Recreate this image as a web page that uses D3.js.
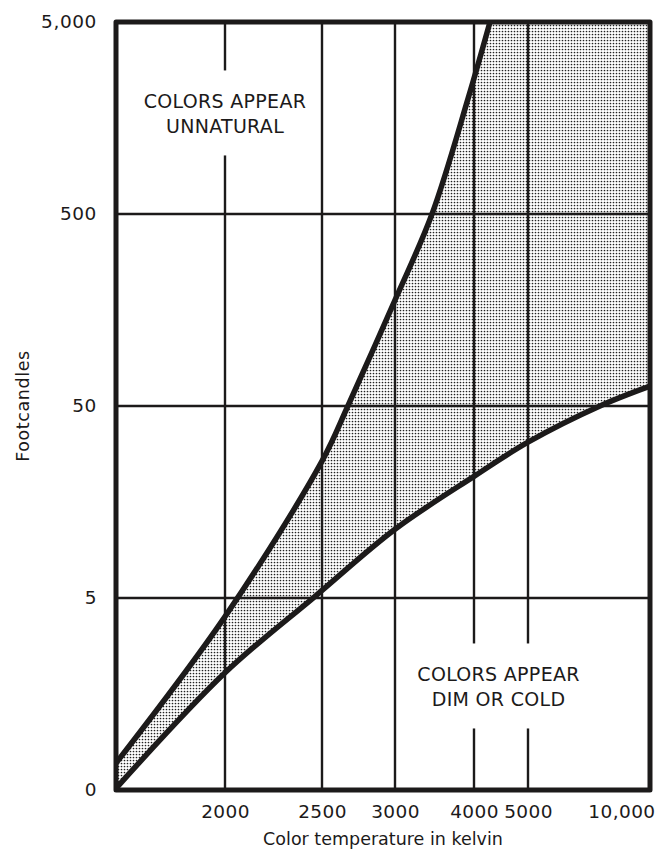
<!DOCTYPE html>
<html><head><meta charset="utf-8">
<script src="https://cdn.jsdelivr.net/npm/d3@7"></script>
<style>
body{margin:0;background:#fff;}
svg{display:block;}
text{font-family:"DejaVu Sans",sans-serif;fill:#1c1a1a;}
</style>
</head><body>
<svg id="chart" width="659" height="852"></svg>
<script>
// ---- data ----
const kelvinTicks  = [2000, 2500, 3000, 4000, 5000, 10000];
const kelvinLabels = ["2000", "2500", "3000", "4000", "5000", "10,000"];
const kelvinGrid   = [2000, 2500, 3000, 4000, 5000];
const kelvinAnchors = [1600, 2000, 2500, 3000, 4000, 5000, 10000];
const fcTicks  = [0.5, 5, 50, 500, 5000];
const fcLabels = ["0", "5", "50", "500", "5,000"];
const fcGrid   = [5, 50, 500];
// upper boundary (above: colors appear unnatural)
const upperK  = [1600, 2000, 2500, 2657, 3000, 3398, 3902, 4252];
const upperFc = [0.69, 4.0, 25.8, 50, 178, 500, 1995, 5000];
// lower boundary (below: colors appear dim or cold)
const lowerK  = [1600, 2000, 2462, 3000, 4000, 5000, 7092, 10000];
const lowerFc = [0.51, 2.04, 5.15, 11.4, 21.5, 32.4, 50, 63.4];
const noteTop    = {k: 2000, fc: 1650, lines: ["COLORS APPEAR", "UNNATURAL"]};
const noteBottom = {k: 4400, fc: 1.71, lines: ["COLORS APPEAR", "DIM OR COLD"]};

// ---- layout ----
const plotTop = 22, plotBottom = 790;
const xAnchorPx = [116, 225, 322, 395, 474, 528, 650];
const ink = "#1c1a1a";

const mired = k => 1e6 / k;
const xm = d3.scaleLinear().domain(kelvinAnchors.map(mired)).range(xAnchorPx);
const X = k => xm(mired(k));
const Y = d3.scaleLog().domain([0.5, 5000]).range([plotBottom, plotTop]);
const kMin = kelvinAnchors[0], kMax = kelvinAnchors[kelvinAnchors.length - 1];
const plotLeft = X(kMin), plotRight = X(kMax);
const curve = d3.curveCatmullRom.alpha(0.5);

const svg = d3.select("#chart");
const defs = svg.append("defs");

// stipple pattern
const pat = defs.append("pattern").attr("id", "dots")
  .attr("patternUnits", "userSpaceOnUse").attr("width", 3).attr("height", 3);
pat.append("rect").attr("width", 3).attr("height", 3).attr("fill", "#fff");
pat.append("circle").attr("cx", 1.5).attr("cy", 1.5).attr("r", 0.85).attr("fill", "#222");

const upper = upperK.map((k, i) => ({k, fc: upperFc[i]}));
const lower = lowerK.map((k, i) => ({k, fc: lowerFc[i]}));

// clip: region to the right of / below the upper curve
const clip = defs.append("clipPath").attr("id", "belowUpper");
clip.append("path").attr("d", d3.area()
  .x(d => X(d.k)).y0(Y(0.5)).y1(d => Y(d.fc))
  .curve(curve)(upper));
const upperEndX = X(upperK[upperK.length - 1]);
clip.append("rect")
  .attr("x", upperEndX - 0.5).attr("y", Y(5000))
  .attr("width", plotRight - upperEndX + 0.5)
  .attr("height", Y(0.5) - Y(5000));

// shaded band: above the lower curve, clipped below the upper curve
svg.append("path")
  .attr("clip-path", "url(#belowUpper)")
  .attr("fill", "url(#dots)")
  .attr("d", d3.area()
    .x(d => X(d.k)).y0(d => Y(d.fc)).y1(Y(5000))
    .curve(curve)(lower));

// grid lines
svg.append("g").selectAll("line").data(kelvinGrid).join("line")
  .attr("x1", d => X(d)).attr("x2", d => X(d))
  .attr("y1", Y(5000)).attr("y2", Y(0.5))
  .attr("stroke", ink).attr("stroke-width", 2.4);
svg.append("g").selectAll("line").data(fcGrid).join("line")
  .attr("x1", plotLeft).attr("x2", plotRight)
  .attr("y1", d => Y(d)).attr("y2", d => Y(d))
  .attr("stroke", ink).attr("stroke-width", 2.4);

// annotations with gaps in grid lines
function note(n) {
  const cx = X(n.k), cy = Y(n.fc);
  const g = svg.append("g");
  const t = g.append("text").attr("text-anchor", "middle")
    .attr("font-size", 19).attr("letter-spacing", 0.3);
  n.lines.forEach((s, i) => {
    t.append("tspan").attr("x", cx).attr("y", cy - 6 + i * 25).text(s);
  });
  const bb = t.node().getBBox();
  g.insert("rect", "text")
    .attr("x", bb.x - 4).attr("y", bb.y - 20)
    .attr("width", bb.width + 8).attr("height", bb.height + 38)
    .attr("fill", "#fff");
}
note(noteTop);
note(noteBottom);

// curves
const line = d3.line().x(d => X(d.k)).y(d => Y(d.fc)).curve(curve);
svg.append("path").attr("d", line(upper)).attr("fill", "none")
  .attr("stroke", ink).attr("stroke-width", 5.5);
svg.append("path").attr("d", line(lower)).attr("fill", "none")
  .attr("stroke", ink).attr("stroke-width", 5.5);

// frame
svg.append("rect")
  .attr("x", plotLeft).attr("y", Y(5000))
  .attr("width", plotRight - plotLeft).attr("height", Y(0.5) - Y(5000))
  .attr("fill", "none").attr("stroke", ink).attr("stroke-width", 5)
  .attr("stroke-linejoin", "round");

// axes
const xAxis = d3.axisBottom(d3.scaleLinear().domain([plotLeft, plotRight]).range([plotLeft, plotRight]))
  .tickValues(kelvinTicks.map(X))
  .tickFormat((d, i) => kelvinLabels[i]).tickSize(0).tickPadding(0);
const gx = svg.append("g").attr("transform", `translate(0,${plotBottom})`).call(xAxis);
gx.select(".domain").remove();
gx.selectAll("text").attr("font-size", 18.5).attr("font-family", "DejaVu Sans")
  .attr("fill", ink).attr("y", 28).attr("dy", 0)
  .attr("letter-spacing", 0.4);
gx.selectAll(".tick").filter((d, i) => i === kelvinTicks.length - 1)
  .select("text").attr("text-anchor", "end").attr("dx", 5);

const yAxis = d3.axisLeft(Y).tickValues(fcTicks)
  .tickFormat((d, i) => fcLabels[i]).tickSize(0).tickPadding(19);
const gy = svg.append("g").attr("transform", `translate(${plotLeft},0)`).call(yAxis);
gy.select(".domain").remove();
gy.selectAll("text").attr("font-size", 18.5).attr("font-family", "DejaVu Sans")
  .attr("fill", ink).attr("letter-spacing", 0.6);

// axis titles
svg.append("text").attr("x", (plotLeft + plotRight) / 2).attr("y", 845)
  .attr("text-anchor", "middle").attr("font-size", 17.5)
  .text("Color temperature in kelvin");
svg.append("text")
  .attr("transform", `translate(29,${(plotTop + plotBottom) / 2}) rotate(-90)`)
  .attr("text-anchor", "middle").attr("font-size", 17.5).attr("letter-spacing", 0.6)
  .text("Footcandles");
</script>
</body></html>
